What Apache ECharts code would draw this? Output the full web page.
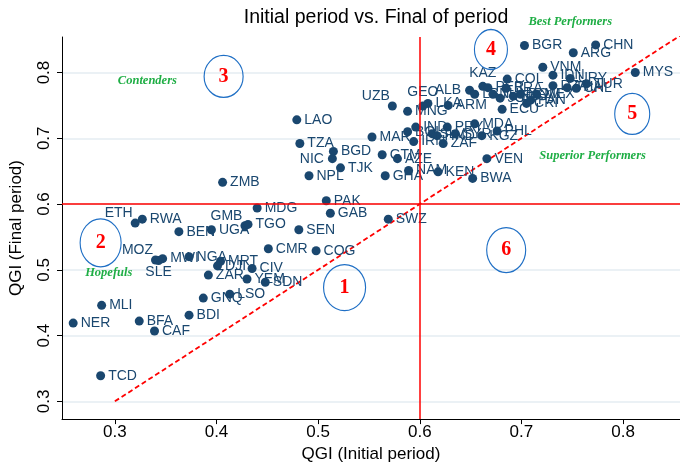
<!DOCTYPE html>
<html>
<head>
<meta charset="utf-8">
<script src="https://cdn.jsdelivr.net/npm/echarts@6/dist/echarts.min.js"></script>
<style>
  html, body { margin: 0; padding: 0; background: #fff; }
  #chart { width: 680px; height: 468px; }
</style>
</head>
<body>
<div id="chart"></div>
<script>
// Country codes with their QGI in the initial and in the final period
const countries = [
  'CHN','BGR','ARG','MYS','VNM','IDN','URY','DZA','TUR','THA','CHL','MEX','CRI','ECU','COL','KAZ',
  'ALB','PER','BRA','DOM','TUN','JOR','EGY','PAN','LBN','ARM','LKA','GEO','UZB','MNG','MAR','BOL',
  'IND','IRN','SLV','PRY','HND','ZAF','SYR','MDA','KGZ','PHL','VEN','BWA','KEN','NAM','GHA','AZE',
  'GTM','LAO','TZA','BGD','NIC','TJK','NPL','ZMB','PAK','GAB','SWZ','MDG','SEN','CMR','COG','GMB',
  'TGO','UGA','BEN','ETH','RWA','MOZ','SLE','MWI','NGA','MRT','DJI','ZAR','CIV','YEM','SDN','GNQ',
  'LSO','BDI','MLI','NER','BFA','CAF','TCD'
];
const qgiInitial = [
  0.773,0.703,0.751,0.812,0.721,0.731,0.748,0.731,0.764,0.745,0.754,0.715,0.705,0.681,0.686,0.662,
  0.649,0.667,0.685,0.699,0.672,0.679,0.692,0.709,0.654,0.628,0.608,0.603,0.573,0.588,0.553,0.588,
  0.596,0.594,0.612,0.627,0.617,0.623,0.635,0.654,0.661,0.676,0.666,0.652,0.618,0.589,0.566,0.578,
  0.563,0.479,0.482,0.515,0.514,0.522,0.491,0.406,0.508,0.512,0.569,0.440,0.481,0.451,0.498,0.428,
  0.431,0.395,0.363,0.320,0.327,0.340,0.343,0.347,0.373,0.404,0.401,0.392,0.435,0.430,0.448,0.387,
  0.413,0.373,0.287,0.259,0.324,0.339,0.286
];
const qgiFinal = [
  0.842,0.841,0.830,0.800,0.808,0.796,0.791,0.780,0.783,0.777,0.776,0.767,0.753,0.744,0.790,0.779,
  0.773,0.777,0.776,0.767,0.767,0.761,0.764,0.758,0.767,0.750,0.753,0.749,0.749,0.741,0.702,0.710,
  0.717,0.695,0.707,0.717,0.704,0.692,0.707,0.722,0.704,0.711,0.669,0.639,0.649,0.651,0.643,0.669,
  0.675,0.728,0.692,0.680,0.669,0.655,0.643,0.633,0.605,0.586,0.577,0.594,0.561,0.532,0.529,0.567,
  0.569,0.561,0.558,0.571,0.577,0.515,0.514,0.517,0.520,0.513,0.506,0.492,0.502,0.486,0.481,0.457,
  0.463,0.431,0.446,0.419,0.422,0.407,0.339
];

// Sample means that split the plane into quadrants
const meanInitial = 0.6035;
const meanFinal = 0.605;

// Axis ranges and tick labels
const xRange = [0.248, 0.856];
const yRange = [0.273, 0.854];
const ticks = [0.3, 0.4, 0.5, 0.6, 0.7, 0.8];

// Numbered regions
const regionIds = ['1', '2', '3', '4', '5', '6'];
const regionX = [0.526, 0.286, 0.407, 0.670, 0.809, 0.685];
const regionY = [0.473, 0.541, 0.794, 0.835, 0.737, 0.530];

// Group names
const groupNames = ['Best Performers', 'Contenders', 'Hopefuls', 'Superior Performers'];
const groupX = [0.748, 0.332, 0.294, 0.770];
const groupY = [0.877, 0.788, 0.496, 0.674];

// Marker-label placement for the crowded points (all others sit to the right)
const labelPlacement = {
  UZB: 'topLeft', GEO: 'top', ALB: 'left', KAZ: 'top', NIC: 'left',
  ETH: 'topLeft', GMB: 'topLeft', MOZ: 'topLeft', SLE: 'bottom'
};
const placementStyles = {
  left: { position: 'left', distance: 4 },
  top: { position: 'top', distance: 2 },
  topLeft: { position: 'left', distance: 2, offset: [4, -10] },
  bottom: { position: 'bottom', distance: 0 }
};
// Ellipse sizes around the region numbers
const ellipseSize = { '1': [42, 46], '2': [41, 48], '3': [39, 42], '4': [33, 40], '5': [35, 41], '6': [39, 45] };

const NAVY = '#1a476f';
const SANS = 'Liberation Sans, Arial, sans-serif';
const SERIF = 'Liberation Serif, Times New Roman, serif';

const gridLeft = 62, gridRight = 0;
const chart = echarts.init(document.getElementById('chart'), null, { renderer: 'canvas' });

const pointData = countries.map((c, i) => {
  const item = { value: [qgiInitial[i], qgiFinal[i], c] };
  const p = labelPlacement[c];
  if (p) item.label = placementStyles[p];
  return item;
});

const regionData = regionIds.map((id, i) => ({
  value: [regionX[i], regionY[i], id],
  symbolSize: ellipseSize[id]
}));

const groupData = groupNames.map((g, i) => ({ value: [groupX[i], groupY[i], g] }));

chart.setOption({
  animation: false,
  backgroundColor: '#fff',
  title: {
    text: 'Initial period vs. Final of period',
    left: gridLeft + (680 - gridLeft - gridRight) / 2,
    textAlign: 'center',
    top: 3,
    textStyle: { fontFamily: SANS, fontSize: 19.5, fontWeight: 'normal', color: '#000' }
  },
  grid: { left: gridLeft, right: gridRight, top: 37, bottom: 45 },
  xAxis: {
    type: 'value',
    min: xRange[0], max: xRange[1],
    name: 'QGI (Initial period)',
    nameLocation: 'middle',
    nameGap: 25,
    nameTextStyle: { fontFamily: SANS, fontSize: 17, color: '#000' },
    axisLine: { onZero: false, lineStyle: { color: '#000', width: 1 } },
    axisTick: { show: true, length: 5, customValues: ticks, lineStyle: { color: '#000' } },
    axisLabel: { customValues: ticks, fontFamily: SANS, fontSize: 17, color: '#000', margin: 5,
                 formatter: v => v.toFixed(1) },
    splitLine: { show: false }
  },
  yAxis: {
    type: 'value',
    min: yRange[0], max: yRange[1],
    name: 'QGI (Final period)',
    nameLocation: 'middle',
    nameGap: 37,
    nameTextStyle: { fontFamily: SANS, fontSize: 17, color: '#000' },
    axisLine: { onZero: false, lineStyle: { color: '#000', width: 1 } },
    axisTick: { show: true, length: 5, customValues: ticks, lineStyle: { color: '#000' } },
    axisLabel: { customValues: ticks, rotate: 90, fontFamily: SANS, fontSize: 17, color: '#000', margin: 9,
                 formatter: v => v.toFixed(1) },
    splitLine: { show: true, lineStyle: { color: '#e4edf2', width: 1.5 } }
  },
  series: [
    {
      // 45-degree line: no change between the two periods
      type: 'line',
      data: [[0.3, 0.3], [xRange[1], xRange[1]]],
      symbol: 'none',
      silent: true,
      lineStyle: { color: '#ff0000', width: 1.8, type: [5, 3], opacity: 1 },
      z: 2
    },
    {
      type: 'scatter',
      data: pointData,
      symbolSize: 9,
      itemStyle: { color: NAVY, opacity: 1 },
      emphasis: { disabled: true },
      label: {
        show: true,
        position: 'right',
        distance: 3,
        formatter: p => p.value[2],
        color: NAVY,
        fontFamily: SANS,
        fontSize: 14
      },
      markLine: {
        silent: true,
        symbol: 'none',
        label: { show: false },
        lineStyle: { color: '#ff0000', width: 1.5, type: 'solid', opacity: 1 },
        data: [{ xAxis: meanInitial }, { yAxis: meanFinal }]
      },
      z: 3
    },
    {
      type: 'scatter',
      data: regionData,
      symbol: 'circle',
      clip: false,
      silent: true,
      emphasis: { disabled: true },
      itemStyle: { color: 'rgba(0,0,0,0)', borderColor: '#1f6fc5', borderWidth: 1.2, opacity: 1 },
      label: {
        show: true,
        position: 'inside',
        formatter: p => p.value[2],
        color: '#ff0000',
        fontFamily: SERIF,
        fontWeight: 'bold',
        fontSize: 20
      },
      z: 4
    },
    {
      type: 'scatter',
      data: groupData,
      symbolSize: 1,
      clip: false,
      silent: true,
      emphasis: { disabled: true },
      itemStyle: { color: 'rgba(0,0,0,0)', opacity: 1 },
      label: {
        show: true,
        position: 'inside',
        formatter: p => p.value[2],
        color: '#1fae45',
        fontFamily: SERIF,
        fontWeight: 'bold',
        fontStyle: 'italic',
        fontSize: 12.5
      },
      z: 4
    }
  ]
});
</script>
</body>
</html>
